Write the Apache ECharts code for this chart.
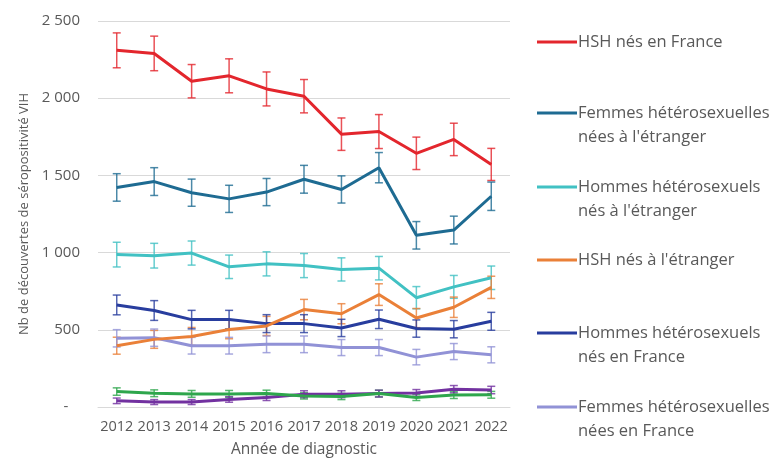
<!DOCTYPE html>
<html>
<head>
<meta charset="utf-8">
<script src="https://cdn.jsdelivr.net/npm/echarts@6/dist/echarts.min.js"></script>
<style>
  html, body { margin: 0; padding: 0; background: #fff; }
  #chart { width: 774px; height: 463px; }
</style>
</head>
<body>
<div id="chart"></div>
<script>
// Découvertes de séropositivité VIH par groupe, 2012-2022 (avec intervalles)

const years = ['2012', '2013', '2014', '2015', '2016', '2017', '2018', '2019', '2020', '2021', '2022'];

const hshFrance = [2310, 2290, 2110, 2145, 2060, 2013, 1767, 1784, 1643, 1733, 1571];
const hshFranceErr = [113, 112, 108, 110, 110, 108, 105, 110, 105, 105, 104];

const femmesEtranger = [1422, 1460, 1388, 1348, 1392, 1475, 1409, 1550, 1112, 1146, 1365];
const femmesEtrangerErr = [89, 90, 88, 88, 88, 90, 88, 98, 89, 90, 92];

const hommesEtranger = [987, 980, 997, 908, 927, 916, 891, 899, 708, 778, 837];
const hommesEtrangerErr = [80, 80, 78, 76, 78, 78, 75, 76, 72, 74, 76];

const hshEtranger = [397, 438, 457, 502, 525, 631, 604, 728, 576, 646, 775];
const hshEtrangerErr = [55, 58, 58, 60, 62, 66, 65, 70, 62, 66, 72];

const hommesFrance = [661, 625, 566, 566, 540, 540, 512, 568, 508, 504, 555];
const hommesFranceErr = [64, 64, 60, 60, 58, 58, 56, 60, 56, 56, 58];

const femmesFrance = [445, 449, 397, 397, 406, 406, 385, 385, 323, 359, 338];
const femmesFranceErr = [56, 56, 54, 54, 54, 54, 52, 52, 50, 52, 52];

const autresA = [100, 89, 85, 85, 87, 72, 68, 87, 62, 77, 79];
const autresAErr = [24, 22, 22, 22, 22, 20, 20, 22, 20, 22, 22];

const autresB = [40, 32, 32, 49, 62, 83, 83, 87, 91, 115, 110];
const autresBErr = [18, 16, 16, 18, 20, 22, 22, 22, 22, 24, 24];

const groups = [
  { name: 'HSH nés en France', label: 'HSH nés en France', values: hshFrance, err: hshFranceErr, color: '#e3262d', legendY: 42 },
  { name: 'Femmes hétérosexuelles nées à l\'étranger', label: 'Femmes hétérosexuelles\nnées à l\'étranger', values: femmesEtranger, err: femmesEtrangerErr, color: '#1e6b92', legendY: 113 },
  { name: 'Hommes hétérosexuels nés à l\'étranger', label: 'Hommes hétérosexuels\nnés à l\'étranger', values: hommesEtranger, err: hommesEtrangerErr, color: '#41c1c3', legendY: 187 },
  { name: 'HSH nés à l\'étranger', label: 'HSH nés à l\'étranger', values: hshEtranger, err: hshEtrangerErr, color: '#ea8038', legendY: 260 },
  { name: 'Hommes hétérosexuels nés en France', label: 'Hommes hétérosexuels\nnés en France', values: hommesFrance, err: hommesFranceErr, color: '#283d9e', legendY: 333 },
  { name: 'Femmes hétérosexuelles nées en France', label: 'Femmes hétérosexuelles\nnées en France', values: femmesFrance, err: femmesFranceErr, color: '#9192d6', legendY: 407 },
  { name: 'Autres A', label: null, values: autresA, err: autresAErr, color: '#2ea64c' },
  { name: 'Autres B', label: null, values: autresB, err: autresBErr, color: '#7231a0' }
];

const font = '"Open Sans", "Noto Sans", sans-serif';
const grey = '#595959';

function errorBars(color) {
  return function (params, api) {
    const x = api.value(0);
    const v = api.value(1);
    const e = api.value(2);
    const top = api.coord([x, v + e]);
    const bot = api.coord([x, v - e]);
    const hw = 4;
    const style = { stroke: color, lineWidth: 1.5, opacity: 0.8 };
    return {
      type: 'group',
      children: [
        { type: 'line', shape: { x1: top[0], y1: top[1], x2: bot[0], y2: bot[1] }, style: style },
        { type: 'line', shape: { x1: top[0] - hw, y1: top[1], x2: top[0] + hw, y2: top[1] }, style: style },
        { type: 'line', shape: { x1: bot[0] - hw, y1: bot[1], x2: bot[0] + hw, y2: bot[1] }, style: style }
      ]
    };
  };
}

const series = [];
groups.forEach(g => {
  series.push({
    name: g.name + ' (IC)',
    type: 'custom',
    renderItem: errorBars(g.color),
    data: years.map((y, i) => [i, g.values[i], g.err[i]]),
    z: 2,
    silent: true
  });
});
groups.slice().reverse().forEach(g => {
  series.push({
    name: g.name,
    type: 'line',
    data: g.values,
    symbol: 'none',
    lineStyle: { width: 3, color: g.color },
    itemStyle: { color: g.color },
    z: 3
  });
});

// two-line labels get an empty first line so the legend line sits on the first text line
const legends = groups.filter(g => g.label).map(g => {
  const twoLines = g.label.indexOf('\n') >= 0;
  return {
    orient: 'vertical',
    left: 537,
    top: twoLines ? g.legendY - 36 : g.legendY - 12,
    data: [g.name],
    icon: 'rect',
    itemWidth: 40,
    itemHeight: 3,
    itemGap: 0,
    padding: 0,
    selectedMode: false,
    formatter: () => twoLines ? ' \n' + g.label : g.label,
    textStyle: {
      fontFamily: font,
      fontSize: 16.5,
      color: grey,
      lineHeight: 24,
      padding: [0, 0, 0, -4]
    }
  };
});

const chart = echarts.init(document.getElementById('chart'));

chart.setOption({
  animation: false,
  backgroundColor: '#fff',
  textStyle: { fontFamily: font },
  grid: { left: 98, right: 264, top: 21, bottom: 50 },
  legend: legends,
  xAxis: {
    type: 'category',
    data: years,
    boundaryGap: true,
    axisLine: { lineStyle: { color: '#d9d9d9', width: 1 } },
    axisTick: { show: false },
    axisLabel: { color: grey, fontSize: 14.5, margin: 12, interval: 0, fontFamily: font },
    name: 'Année de diagnostic',
    nameLocation: 'middle',
    nameGap: 35,
    nameTextStyle: { color: grey, fontSize: 15.5, fontFamily: font }
  },
  yAxis: {
    type: 'value',
    min: 0,
    max: 2500,
    interval: 500,
    axisLine: { show: false },
    axisTick: { show: false },
    splitLine: { lineStyle: { color: '#d9d9d9', width: 1 } },
    axisLabel: {
      color: grey,
      fontSize: 15,
      margin: 18,
      fontFamily: font,
      formatter: v => v === 0 ? '-   ' : String(v).replace(/\B(?=(\d{3})+(?!\d))/g, ' ')
    },
    name: 'Nb de découvertes de séropositivité VIH',
    nameLocation: 'middle',
    nameGap: 64,
    nameTextStyle: { color: grey, fontSize: 13, fontFamily: font }
  },
  series: series
});
</script>
</body>
</html>
